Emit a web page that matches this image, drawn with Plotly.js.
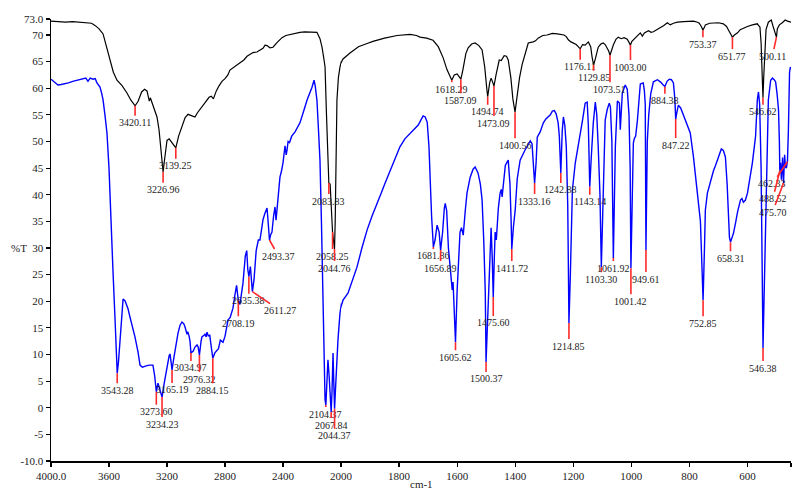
<!DOCTYPE html>
<html>
<head>
<meta charset="utf-8">
<script src="https://cdn.plot.ly/plotly-3.0.1.min.js"></script>
<style>
  html, body { margin: 0; padding: 0; background: #fff; }
  #ir { width: 803px; height: 491px; }
</style>
</head>
<body>
<div id="ir"></div>
<script>
// FTIR spectra (%T vs wavenumber), two samples.
// Wavenumber axis: 4000-2000 cm-1 compressed, 2000-450 cm-1 expanded 2x.

const blackWn = [4000,3950,3900,3850,3800,3750,3720,3697,3670,3641,3620,3593,3570,3545,3510,3476,3450,3420.11,3400,3375,3355,3338,3322,3315,3305,3290,3269,3255,3240,3226.96,3215,3200,3185,3170,3155,3139.25,3120,3097,3075,3055,3030,3007,2990,2972,2940,2910,2895,2880,2860,2840,2821,2800,2780,2766,2740,2717,2697,2670,2648,2628,2607,2580,2560,2538,2524,2510,2490,2469,2440,2407,2380,2340,2283,2250,2200,2166,2145,2131,2118,2110,2100,2090,2083.83,2075,2068,2058.25,2050,2044.76,2040,2034,2028,2018,2007,1993,1969,1940,1910,1890,1850,1807,1762,1740,1728,1705,1683,1665,1648,1635,1618.29,1610,1600,1593,1587.09,1580,1570,1562,1550,1538,1525,1514,1505,1498,1494.74,1488,1483,1478,1473.09,1466,1459,1455,1448,1438,1430,1424,1415,1408,1400.56,1392,1385,1376,1365,1355,1338,1330,1321,1305,1290,1272,1255,1232,1224,1217,1208,1200,1190,1183,1176.11,1168,1159,1148,1140,1135,1129.85,1124,1114,1105,1097,1090,1085,1078,1073.51,1068,1062,1053,1045,1035,1025,1014,1008,1003.00,998,993,980,969,962,955,941,932,924,912,900,888,876,866,855,841,820,800,786,772,766,758,753.37,748,745,730,717,700,683,672,665,658,651.77,645,634,625,614,600,583,566,562,557,553,550,546.62,544,540,536,528,518,510,504,500.11,497,490,480,470,462,452,450];
const blackT = [72.6,72.5,72.4,72.5,72.4,72.4,72.2,71.8,71.2,70.2,68,65.3,63,61.5,60.5,59.1,57.8,56.7,57.5,59.3,59.8,59.5,57.6,58.2,57.5,56.2,54.6,52.2,48,44.3,47,50.2,50.5,50,49.3,48.8,51,52.7,54.5,55.1,54.8,54.6,55.4,56,57.2,58.3,58.5,58,59.5,60.5,61.3,61.8,62.5,63.4,63.9,64.4,64.8,65.3,66,66.4,66.7,66.8,67.1,67.5,68.1,68,67.6,67.7,68.6,69.5,69.9,70.2,70.5,70.6,70.6,70.5,69.3,67.7,65.5,64,55,44,42.2,42,38,33,31,29.8,35,48,57.8,62,64,65.5,66.6,67.8,68.4,68.8,69.4,69.9,70.1,69.9,69.6,69.4,69,67.8,65.7,63.5,61.5,62.5,62.7,62.2,61.7,63.5,66.5,67.6,68.3,68.5,68,67.2,64,60,58.4,61,61.9,61.2,60.4,62.5,64.7,65.3,65.2,66.1,66,65.3,62,58,55.5,59,62,64.5,66.5,68.5,68.7,68.9,69.4,69.9,70,70.3,70.2,70,69.7,69.1,68.7,68.5,68.2,67.8,67.4,68.2,68.1,68.7,67.8,65.8,64.4,65.5,67.7,68.3,68.5,68.2,67.7,67,66.2,67.3,68.1,69.2,69.6,69.3,69.5,69.2,68.7,68.1,68.8,69.1,69.9,70.4,69.8,70.4,70.8,70.5,70.6,71,71.3,71.8,72.3,71.9,72.2,72.4,72.5,72.6,72.6,72.4,72.2,71.5,70.9,71.5,71.9,72.2,72.3,72.3,72.1,71.6,70.9,70.2,69.6,70,70.4,71,71.3,71.6,71.9,72.1,71.8,71.5,68.5,62,58.2,62,67.2,71,72.4,72.8,71.3,70.2,69.6,71.2,71.9,72.3,72.8,72.6,72.3,72.4];

const blueWn = [4000,3980,3952,3930,3906,3880,3850,3820,3800,3779,3760,3745,3730,3710,3695,3683,3662,3650,3641,3628,3614,3600,3593,3579,3572,3559,3550,3543.28,3535,3524,3503,3490,3470,3455,3435,3421,3400,3386,3370,3355,3338,3320,3297,3285,3273.60,3262,3250,3234.23,3220,3200,3185,3179,3172,3165.19,3155,3145,3124,3110,3097,3085,3076,3062,3057,3048,3041,3034.97,3020,3007,2993,2985,2976.32,2965,2959,2945,2938,2930,2924,2915,2905,2900,2884.15,2870,2855,2845,2832,2821,2814,2800,2790,2779,2765,2745,2731,2720,2714,2708.19,2697,2676,2660,2650,2643,2635.38,2625,2611.27,2600,2585,2570,2559,2545,2538,2525,2510,2500,2493.37,2485,2476,2465,2455,2448,2435,2421,2410,2400,2386,2378,2372,2365,2355,2340,2317,2300,2283,2260,2234,2200,2186,2178,2166,2155,2145,2135,2125,2115,2110,2104.37,2098,2090,2082,2075,2067.84,2062,2055,2050,2044.37,2038,2030,2021,2007,1993,1976,1960,1945,1928,1910,1893,1876,1860,1848,1835,1821,1810,1797,1780,1762,1748,1734,1725,1717,1710,1703,1697,1693,1688,1681.86,1676,1669,1662,1656.89,1650,1644,1641,1636,1630,1624,1617,1614,1610,1605.62,1600,1595,1590,1585,1579,1572,1566,1555,1545,1538,1528,1520,1514,1508,1503,1500.37,1496,1493,1488,1483,1479,1475.60,1472,1469,1465,1458,1452,1448,1445,1440,1434,1424,1418,1414,1411.72,1406,1400,1393,1383,1366,1355,1348,1342,1338,1333.16,1328,1324,1314,1303,1295,1286,1279,1272,1265,1259,1252,1248,1242.88,1238,1234,1229,1224,1219,1214.85,1210,1203,1193,1185,1176,1168,1159,1152,1148,1143.14,1138,1131,1124,1119,1114,1108,1103.30,1098,1090,1083,1076,1072,1067,1061.92,1058,1055,1048,1041,1038,1035,1031,1021,1014,1008,1004,1001.42,997,993,990,985,979,973,969,959,955,952,949.61,945,940,933,924,910,900,890,884.38,877,869,862,855,850,847.22,843,838,830,821,810,797,786,779,770,762,757,752.85,748,745,738,728,717,710,700,690,683,676,670,666,662,658.31,653,648,640,634,624,619,614,607,600,590,583,572,566,562,558,553,549,546.38,543,538,533,528,520,514,508,503,498,493,490,488.52,486,483,479,475.70,472,469,466,462.33,459,455,452,450];
const blueT = [61.7,61.3,60.6,60.7,60.8,61.0,61.3,61.5,61.6,61.8,61.9,61.3,61.9,61.7,61.8,61.0,60.2,59.0,57.8,55,51.6,45,39,30.2,25.3,17,10,6.5,8.5,12.7,20.4,20.1,18.7,17,15,13.3,10.5,8,7.6,7.8,7.9,8.0,8.0,6,3.0,4.6,3.5,2.0,4.5,7.7,9.8,10.1,8.5,7.1,9,10.8,14,15.5,16.1,15.8,15.2,13.8,14.3,13.5,12.4,10.3,10.6,11.4,11.8,11.4,9.9,12.5,13.3,13.6,13.8,13.3,14.2,13.5,13.6,12.5,9.3,10.3,10.8,11.1,12.7,12.4,12.3,13.4,15,16.5,16.9,18.7,21.3,23,21.5,20.2,19.4,23.4,28.5,29.5,26,24.6,26.5,21.8,24,29.5,31.5,31.5,34,35.3,36.5,37.5,34,31.5,32.5,33,36,37.7,35.2,40,43.3,44.5,46,49.2,47.5,48.4,50,49.8,51,51.8,52.8,53.5,55.5,57.8,60.2,61.5,60.5,57.8,52,46.5,35,20,6,1.5,0.5,5,9.0,6,1,-0.8,3,10.3,5,-0.2,3.5,9.5,12.7,17.8,20.2,21.5,24,26.4,30,33.4,36,38.5,40.5,42.2,44,46,47.3,49,50.5,51.6,52.4,53.1,54,54.8,54.6,53.6,49,42.8,36,30.2,31.5,34.3,33,29.6,33,37.5,38.4,37,30,26.4,22.1,23.6,18,12.3,22,29,33,33.8,32.4,37,40.3,43.3,44.8,45.2,44.1,42,39,31,21.5,8.6,15,21.5,28,33.8,28,20.8,28,33,31.5,37.5,40.3,41,39.6,42,45.5,46.5,42,35,29.8,34,37.1,43,46.5,48.4,49.5,50.1,49.6,46.5,42.2,46,50.8,51.8,53.5,54.2,54.6,55,55.7,55.8,55.2,53.5,51,44.1,52,54.6,53,49,38,15.9,25,40.9,46,48.5,50.8,54,57.2,57.4,53,41.5,47,53.5,57.4,55,49,40,26.4,38,54,56,57.2,56.5,50,28.1,40,49,57.6,57.2,52.2,56,59.1,60.6,59.8,55,45,26.2,42,49.7,50.5,51,54,58,60.8,61,59.5,57,29.6,50,55,59,61.2,61.6,61.2,60.6,60.3,61.3,61.7,61.6,61,58,54.2,55.5,56.8,56.3,55,53.5,51.6,47.1,43.5,39.5,35,27,20.2,30,37.1,40.3,42.5,44.5,45.5,47,48.6,48.3,47.1,42,35.3,32,31.1,32,32.8,35,36.8,39,39.3,38.6,39,40.3,43.5,46,51,57.8,59.3,57,45,25,11.2,20,34,50,57.8,61.5,61.9,61.6,61.2,59,55.9,50,44.5,46,42.8,47,42.2,47.5,45.2,45,46.2,52,63,64];

// Labelled absorption bands
const blackPeaks = [3420.11,3226.96,3139.25,2083.83,2058.25,2044.76,1618.29,1587.09,1494.74,1473.09,1400.56,1176.11,1129.85,1073.51,1003.00,753.37,651.77,546.62,500.11];
const bluePeaks = [3543.28,3273.60,3234.23,3165.19,3034.97,2976.32,2884.15,2708.19,2635.38,2611.27,2493.37,2104.37,2067.84,2044.37,1681.86,1656.89,1605.62,1500.37,1475.60,1411.72,1333.16,1242.88,1214.85,1143.14,1103.30,1061.92,1001.42,949.61,884.38,847.22,752.85,658.31,546.38,462.33,488.52,475.70];

const xTicksHigh = [4000,3600,3200,2800,2400,2000];
const xTickTextHigh = ['4000.0','3600','3200','2800','2400','2000'];
const xTicksLow = [1800,1600,1400,1200,1000,800,600,450];
const xTickTextLow = ['1800','1600','1400','1200','1000','800','600','450.0'];
const yTicks = [-10,-5,0,5,10,15,20,25,30,35,40,45,50,55,60,65,70,73];
const yTickText = ['-10.0','-5','0','5','10','15','20','25','30','35','40','45','50','55','60','65','70','73.0'];

// Label placement (pixel offset of each tag from its band minimum)
const blackTagOffsets = [[0,17],[0,18],[0,18],[0,18],[0,24],[0,19],[0,9],[0,21],[0,15],[0,37],[0,33],[0,18],[0,13],[0,34],[0,22],[0,14],[0,19],[0,14],[-4,19]];
const blueTagOffsets = [[0,17],[0,20],[0,27],[0,20],[0,15],[0,24],[0,32],[0,23],[0,24],[28,19],[9,16],[0,9],[0,13],[0,27],[0,9],[0,18],[0,15],[0,17],[0,26],[0,19],[0,18],[0,17],[0,23],[0,15],[0,12],[0,10],[0,33],[0,29],[0,14],[0,26],[0,23],[0,16],[0,20],[-15,22],[-7,28],[-11,29]];

const SPLIT = 2000;
const serif = 'Liberation Serif, Times New Roman, serif';

// Split a spectrum into the compressed (>=2000) and expanded (<=2000) panels.
// Each part keeps one neighbour across the break so the line meets the edge.
function splitSeries(wn, t) {
  const hi = {x: [], y: []}, lo = {x: [], y: []};
  for (let i = 0; i < wn.length; i++) {
    if (wn[i] >= SPLIT || (i > 0 && wn[i - 1] > SPLIT)) { hi.x.push(wn[i]); hi.y.push(t[i]); }
    if (wn[i] <= SPLIT || (i + 1 < wn.length && wn[i + 1] < SPLIT)) { lo.x.push(wn[i]); lo.y.push(t[i]); }
  }
  return {hi, lo};
}

function seriesTraces(wn, t, color, width) {
  const s = splitSeries(wn, t);
  const base = {type: 'scatter', mode: 'lines', line: {color: color, width: width}, hoverinfo: 'skip', showlegend: false};
  return [
    Object.assign({}, base, {x: s.hi.x, y: s.hi.y, xaxis: 'x', yaxis: 'y'}),
    Object.assign({}, base, {x: s.lo.x, y: s.lo.y, xaxis: 'x2', yaxis: 'y'})
  ];
}

function peakTags(peaks, wn, t, offsets) {
  return peaks.map((p, i) => {
    const idx = wn.indexOf(p);
    return {
      xref: p >= SPLIT ? 'x' : 'x2', yref: 'y',
      x: p, y: t[idx],
      text: p.toFixed(2),
      showarrow: true, arrowhead: 0, arrowwidth: 1.6, arrowcolor: '#ff2a2a',
      standoff: 0, startstandoff: 0,
      ax: offsets[i][0], ay: offsets[i][1],
      font: {family: serif, size: 10, color: '#222'}
    };
  });
}

const traces = [].concat(
  seriesTraces(blackWn, blackT, '#000000', 1.2),
  seriesTraces(blueWn, blueT, '#0000ff', 1.4)
);

const axisStyle = {
  showline: true, linecolor: '#000', linewidth: 1.5,
  ticks: 'outside', ticklen: 4, tickwidth: 1.2, tickcolor: '#000',
  showgrid: false, zeroline: false, fixedrange: true,
  tickfont: {family: serif, size: 11, color: '#222'}
};
const breakFrac = 290 / 740;

const layout = {
  width: 803, height: 491,
  margin: {l: 51, r: 12, t: 19, b: 30},
  paper_bgcolor: '#fff', plot_bgcolor: '#fff',
  showlegend: false,
  xaxis: Object.assign({}, axisStyle, {range: [4000, 2000], domain: [0, breakFrac], anchor: 'y',
    tickmode: 'array', tickvals: xTicksHigh, ticktext: xTickTextHigh}),
  xaxis2: Object.assign({}, axisStyle, {range: [2000, 450], domain: [breakFrac, 1], anchor: 'y',
    tickmode: 'array', tickvals: xTicksLow, ticktext: xTickTextLow}),
  yaxis: Object.assign({}, axisStyle, {range: [-10, 73], anchor: 'x',
    tickmode: 'array', tickvals: yTicks, ticktext: yTickText}),
  annotations: [].concat(
    peakTags(blackPeaks, blackWn, blackT, blackTagOffsets),
    peakTags(bluePeaks, blueWn, blueT, blueTagOffsets),
    [
      {xref: 'paper', yref: 'paper', x: 0.5, y: 0, yanchor: 'top', yshift: -15, showarrow: false,
       text: 'cm-1', font: {family: serif, size: 11, color: '#222'}},
      {xref: 'paper', yref: 'y', x: 0, y: 30, xanchor: 'center', xshift: -32, showarrow: false,
       text: '%T', font: {family: serif, size: 11, color: '#222'}}
    ]
  )
};

Plotly.newPlot('ir', traces, layout, {displayModeBar: false, staticPlot: true});
</script>
</body>
</html>
